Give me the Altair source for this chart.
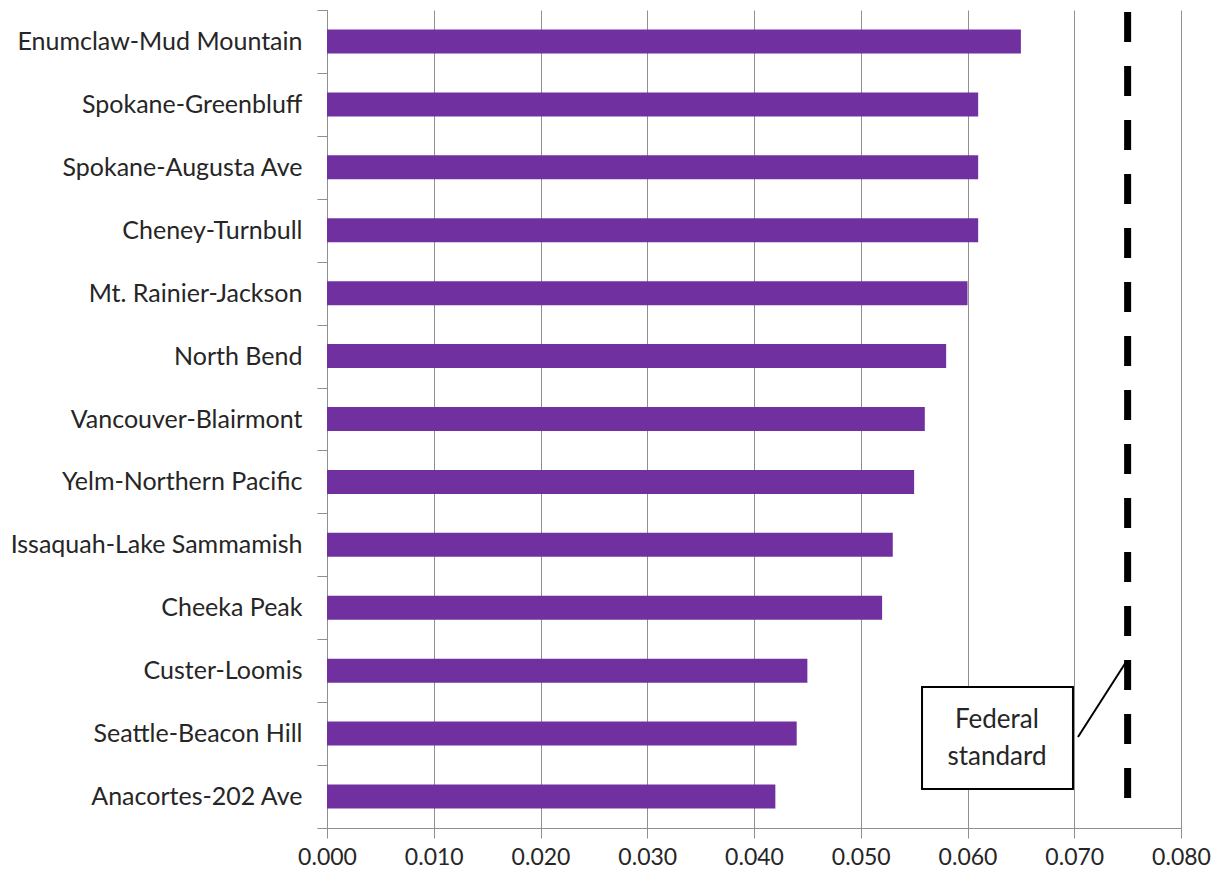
import altair as alt
import pandas as pd

stations = [
    "Enumclaw-Mud Mountain", "Spokane-Greenbluff", "Spokane-Augusta Ave",
    "Cheney-Turnbull", "Mt. Rainier-Jackson", "North Bend",
    "Vancouver-Blairmont", "Yelm-Northern Pacific", "Issaquah-Lake Sammamish",
    "Cheeka Peak", "Custer-Loomis", "Seattle-Beacon Hill", "Anacortes-202 Ave",
]
values = [0.065, 0.061, 0.061, 0.061, 0.060, 0.058, 0.056, 0.055, 0.053,
          0.052, 0.045, 0.044, 0.042]
x_ticks = [0.0, 0.01, 0.02, 0.03, 0.04, 0.05, 0.06, 0.07, 0.08]
federal_standard = 0.075
note_lines = ["Federal", "standard"]

df = pd.DataFrame({"station": stations, "value": values})
FONT = "Lato"
TXT = "#262626"

xscale = alt.Scale(domain=[0, 0.08], nice=False)

bars = alt.Chart(df).mark_bar(color="#7030A0", size=24).encode(
    x=alt.X("value:Q", scale=xscale,
            axis=alt.Axis(values=x_ticks, format=".3f", title=None,
                          grid=True, gridColor="#8f8f8f", gridWidth=1,
                          domainColor="#8f8f8f", tickColor="#8f8f8f",
                          tickSize=10, labelPadding=8, labelFontSize=23,
                          labelFlush=False,
                          labelFont=FONT, labelColor=TXT)),
    y=alt.Y("station:N", sort=stations,
            scale=alt.Scale(domain=stations, paddingInner=0, paddingOuter=0),
            axis=alt.Axis(title=None, tickBand="extent", tickSize=10,
                          domainColor="#8f8f8f", tickColor="#8f8f8f",
                          labelPadding=15, labelFontSize=25, labelFont=FONT,
                          labelColor=TXT, labelLimit=400)),
)

std_df = pd.DataFrame({"x": [federal_standard]})
std_line = alt.Chart(std_df).mark_rule(
    color="black", strokeWidth=7, strokeDash=[30, 24]
).encode(x=alt.X("x:Q", scale=xscale), y=alt.value(2), y2=alt.value(790))

box_df = pd.DataFrame({"x": [0.05574], "x2": [0.06988]})
box = alt.Chart(box_df).mark_rect(
    fill="white", stroke="black", strokeWidth=2
).encode(x=alt.X("x:Q", scale=xscale), x2="x2:Q",
         y=alt.value(677), y2=alt.value(779))

conn_df = pd.DataFrame({"x": [0.07035], "x2": [0.07485]})
conn = alt.Chart(conn_df).mark_rule(color="black", strokeWidth=2).encode(
    x=alt.X("x:Q", scale=xscale), x2="x2:Q",
    y=alt.value(727), y2=alt.value(652))

txt_df = pd.DataFrame({"x": [0.06276, 0.06276], "t": note_lines, "yy": [710, 747]})
txt = alt.Chart(txt_df).mark_text(
    font=FONT, fontSize=26, color=TXT, align="center", baseline="middle"
).encode(x=alt.X("x:Q", scale=xscale),
         y=alt.Y("yy:Q", scale=alt.Scale(domain=[0, 818], range=[0, 818]), axis=None),
         text="t:N")

chart = alt.layer(bars, std_line, box, conn, txt).resolve_scale(y="independent").properties(
    width=854, height=818,
    autosize=alt.AutoSizeParams(type="none"),
    padding={"left": 327, "top": 10, "right": 37, "bottom": 47},
).configure_view(stroke=None)

chart.save("out.html", embed_options={"renderer": "svg", "actions": False})
